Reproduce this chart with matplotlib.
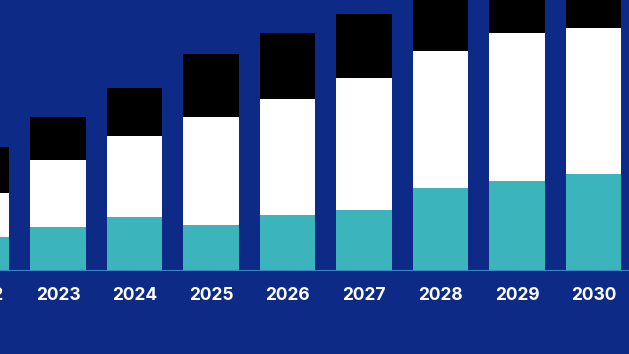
import matplotlib.pyplot as plt

years = ['2022', '2023', '2024', '2025', '2026', '2027', '2028', '2029', '2030']
teal = [34, 44, 54, 46, 56, 61, 83, 90, 97]
white = [44, 67, 81, 108, 116, 132, 137, 148, 146]
black = [46, 43, 48, 63, 66, 64, 70, 70, 72]

bg = '#0d2b86'

fig = plt.figure(figsize=(6.29, 3.54), dpi=100)
fig.patch.set_facecolor(bg)
ax = fig.add_axes([0, 83 / 354, 1, 271 / 354])
ax.set_facecolor(bg)

x = list(range(len(years)))
w = 0.73
bottom2 = [a + b for a, b in zip(teal, white)]
ax.bar(x, teal, width=w, color='#3bb4bc')
ax.bar(x, white, width=w, bottom=teal, color='white')
ax.bar(x, black, width=w, bottom=bottom2, color='black')

ax.axhline(0, color='#3a86c8', lw=1.5)

# year labels as plain text so the cut-off 2022 still shows at the edge
for xi, yr in zip(x, years):
    ax.text(xi, -24.5, yr, ha='center', va='center', clip_on=False,
            fontfamily='Inter', fontweight='bold', fontsize=12.5, color='white')

ax.set_xticks([])
ax.set_yticks([])
ax.set_xlim(0.242, 8.464)
ax.set_ylim(0, 271)
for s in ax.spines.values():
    s.set_visible(False)

fig.savefig('out.png', dpi=100, facecolor=bg)
